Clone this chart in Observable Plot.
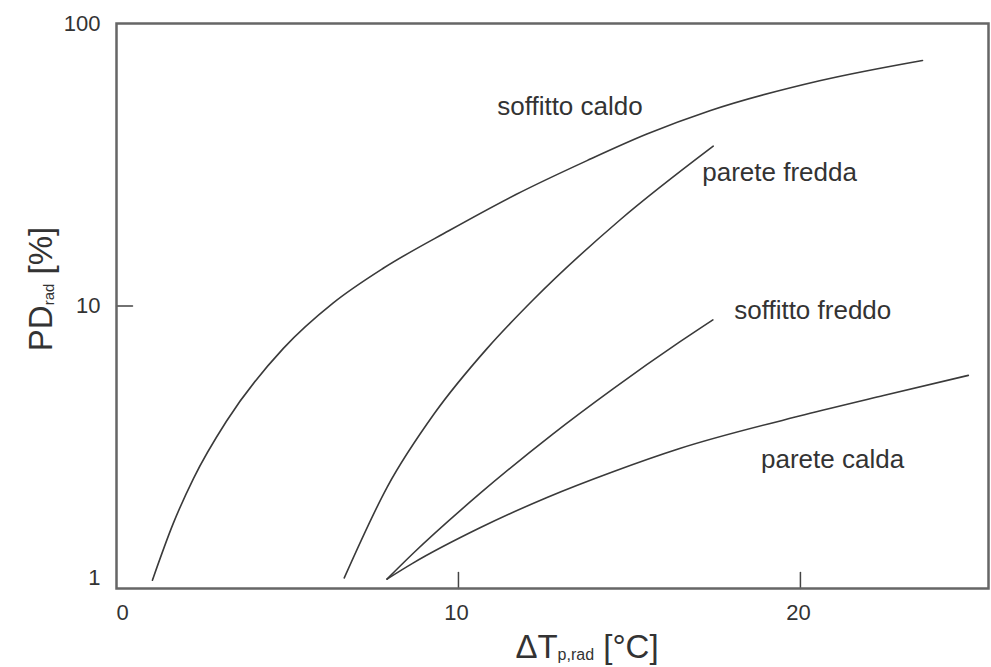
<!DOCTYPE html>
<html>
<head>
<meta charset="utf-8">
<script src="https://cdn.jsdelivr.net/npm/d3@7"></script>
<script src="https://cdn.jsdelivr.net/npm/@observablehq/plot@0.6"></script>
<style>
  body { margin: 0; background: #fff; }
  #chart svg { display: block; }
</style>
</head>
<body>
<div id="chart"></div>
<script>
// ---- data ----
const xTicks = [0, 10, 20];
const yTicks = [1, 10, 100];

const soffittoCaldoX = [1.05, 1.66, 2.25, 3.21, 4.88, 6.34, 7.80, 9.73, 11.68, 13.76, 15.51, 17.35, 20.56, 23.57];
const soffittoCaldoY = [1.07, 1.70, 2.45, 3.90, 7.08, 10.26, 13.6, 18.5, 24.8, 32.7, 40.6, 49.1, 62.7, 74.0];

const pareteFreddaX = [6.66, 7.92, 9.30, 10.84, 12.18, 14.73, 17.45];
const pareteFreddaY = [1.09, 2.29, 4.17, 7.08, 10.5, 20.2, 36.8];

const soffittoFreddoX = [7.91, 8.67, 10.63, 12.73, 14.52, 16.47, 17.44];
const soffittoFreddoY = [1.08, 1.33, 2.17, 3.50, 5.09, 7.46, 8.93];

const pareteCaldaX = [7.91, 8.67, 10.63, 12.59, 14.52, 16.47, 20.12, 22.43, 24.91];
const pareteCaldaY = [1.08, 1.23, 1.64, 2.10, 2.59, 3.13, 4.12, 4.82, 5.68];

const seriesNames = ["soffitto caldo", "parete fredda", "soffitto freddo", "parete calda"];
const labelX = [13.26, 19.39, 20.36, 20.94];
const labelY = [50.8, 29.7, 9.64, 2.86];

// ---- build tables ----
const seriesXs = [soffittoCaldoX, pareteFreddaX, soffittoFreddoX, pareteCaldaX];
const seriesYs = [soffittoCaldoY, pareteFreddaY, soffittoFreddoY, pareteCaldaY];
const points = seriesNames.flatMap((name, i) =>
  seriesXs[i].map((x, j) => ({series: name, x, y: seriesYs[i][j]})));
const labels = seriesNames.map((name, i) => ({name, x: labelX[i], y: labelY[i]}));

const tickShapeUp = {draw(ctx, l) { ctx.moveTo(0, 0); ctx.lineTo(0, -l); }};
const FONT = "'Liberation Sans', Arial, sans-serif";

const chart = Plot.plot({
  width: 991,
  height: 667,
  marginLeft: 116,
  marginRight: 3,
  marginTop: 23,
  marginBottom: 79,
  style: {fontFamily: FONT, fontSize: "22px", color: "#333", background: "#fff"},
  x: {domain: [0, 25.5]},
  y: {type: "log", domain: [1, 100]},
  marks: [
    Plot.line(points, {x: "x", y: "y", z: "series", stroke: "#3a3a3a", strokeWidth: 1.6, curve: "monotone-x"}),
    Plot.text(labels, {x: "x", y: "y", text: "name", fill: "#333", fontSize: 26, textAnchor: "middle"}),
    // inward tick marks
    Plot.vector(xTicks.slice(1), {x: d => d, y: 1, length: 16, rotate: 0, anchor: "start", shape: tickShapeUp, stroke: "#444", strokeWidth: 1.5}),
    Plot.vector(yTicks.slice(1, 2), {x: 0, y: d => d, length: 16, rotate: 90, anchor: "start", shape: tickShapeUp, stroke: "#444", strokeWidth: 1.5}),
    // tick labels
    Plot.axisX({ticks: xTicks.slice(0, 1), tickSize: 0, tickPadding: 16, label: null, fontSize: 22, dx: 6}),
    Plot.axisX({ticks: xTicks.slice(1), tickSize: 0, tickPadding: 16, label: null, fontSize: 22, dx: -2}),
    Plot.axisY({ticks: yTicks.slice(1), tickSize: 0, tickPadding: 16, label: null, fontSize: 22, tickFormat: d => String(d)}),
    Plot.axisY({ticks: yTicks.slice(0, 1), tickSize: 0, tickPadding: 16, label: null, fontSize: 22, dy: -11, tickFormat: d => String(d)}),
    Plot.frame({stroke: "#666", strokeWidth: 2.5})
  ]
});

// axis titles with subscripts
const svg = d3.select(chart);
const xt = svg.append("text")
  .attr("x", 587).attr("y", 658)
  .attr("text-anchor", "middle")
  .attr("font-family", FONT)
  .attr("font-size", 33).attr("fill", "#333");
xt.append("tspan").text("ΔT");
xt.append("tspan").attr("font-size", 16).attr("dy", 2).text("p,rad");
xt.append("tspan").attr("dy", -2).text(" [°C]");

const yt = svg.append("text")
  .attr("transform", "translate(52,289) rotate(-90)")
  .attr("text-anchor", "middle")
  .attr("font-family", FONT)
  .attr("font-size", 33).attr("fill", "#333");
yt.append("tspan").text("PD");
yt.append("tspan").attr("font-size", 15).attr("dy", 2).text("rad");
yt.append("tspan").attr("dy", -2).text(" [%]");

document.getElementById("chart").appendChild(chart);
</script>
</body>
</html>
